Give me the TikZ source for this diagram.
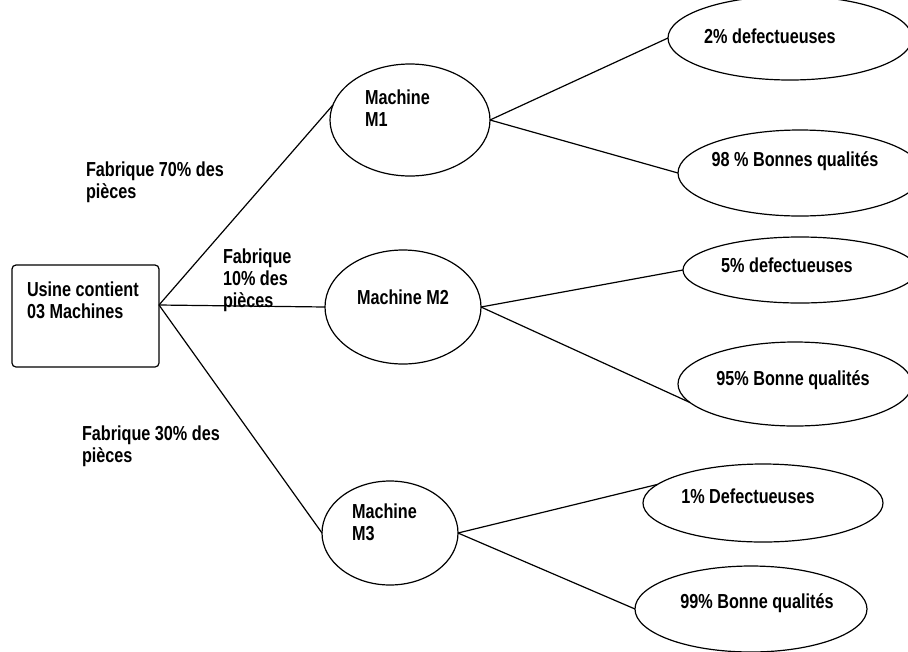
\documentclass[tikz,border=0pt]{standalone}
\usepackage{fontspec}
\setmainfont{Liberation Sans}[FakeStretch=0.8]
\usetikzlibrary{shapes.geometric}
\begin{document}
\begin{tikzpicture}[x=0.75pt,y=-0.75pt,
  lw/.style={line width=0.9pt},
  oval/.style={draw,lw,ellipse,inner sep=0pt,outer sep=0pt},
  txt/.style={inner sep=0pt,outer sep=0pt,font=\fontsize{15.2}{16.5}\selectfont\bfseries,align=left,anchor=base west},
  ctxt/.style={inner sep=0pt,outer sep=0pt,font=\fontsize{15.2}{16.5}\selectfont\bfseries,anchor=base},
  link/.style={draw,lw}]
\useasboundingbox (0,0) rectangle (908,651);
% root box
\node[draw,lw,rounded corners=3pt,minimum width=110.25pt,minimum height=76.5pt,inner sep=0pt,outer sep=0pt] (box) at (85.5,316) {};
\node[txt] (tbox) at (27,318) {Usine contient\\03 Machines};
\coordinate (fan) at ([yshift=8.25pt]box.east);
% machines
\node[oval,minimum width=120pt,minimum height=84pt] (m1) at (410,120) {};
\node[oval,minimum width=117pt,minimum height=85.5pt] (m2) at (403,307) {};
\node[oval,minimum width=102pt,minimum height=78pt] (m3) at (390,533) {};
\node[txt] (tm1) at (365,126) {Machine\\M1};
\node[txt] (tm2) at (357,304) {Machine M2};
\node[txt] (tm3) at (352,540) {Machine\\M3};
% outcomes
\node[oval,minimum width=183pt,minimum height=63pt] (e1) at (790,38) {};
\node[oval,minimum width=183pt,minimum height=64.5pt] (e2) at (800,173) {};
\node[oval,minimum width=175.5pt,minimum height=49.5pt] (e3) at (800,270) {};
\node[oval,minimum width=175.5pt,minimum height=63pt] (e4) at (795,384) {};
\node[oval,minimum width=180pt,minimum height=58.5pt] (e5) at (763,503) {};
\node[oval,minimum width=174pt,minimum height=64.5pt] (e6) at (751,609) {};
\node[ctxt] (te1) at (770,43) {2\% defectueuses};
\node[ctxt] (te2) at (795,166) {98 \% Bonnes qualités};
\node[ctxt] (te3) at (787,272) {5\% defectueuses};
\node[ctxt] (te4) at (793,385) {95\% Bonne qualités};
\node[ctxt] (te5) at (748,503) {1\% Defectueuses};
\node[ctxt] (te6) at (757,608) {99\% Bonne qualités};
% branch labels
\node[txt] (l1) at (86,198) {Fabrique 70\% des\\pièces};
\node[txt] (l2) at (223,307) {Fabrique\\10\% des\\pièces};
\node[txt] (l3) at (82,462) {Fabrique 30\% des\\pièces};
% connectors
\draw[link] (fan) -- (m1.169);
\draw[link] (fan) -- (m2.west);
\draw[link] (fan) -- (m3.west);
\draw[link] (m1.east) -- (e1.west);
\draw[link] (m1.east) -- (e2.west);
\draw[link] (m2.east) -- (e3.west);
\draw[link] (m2.east) -- (e4.190);
\draw[link] (m3.east) -- (e5.170);
\draw[link] (m3.east) -- (e6.west);
\end{tikzpicture}
\end{document}
